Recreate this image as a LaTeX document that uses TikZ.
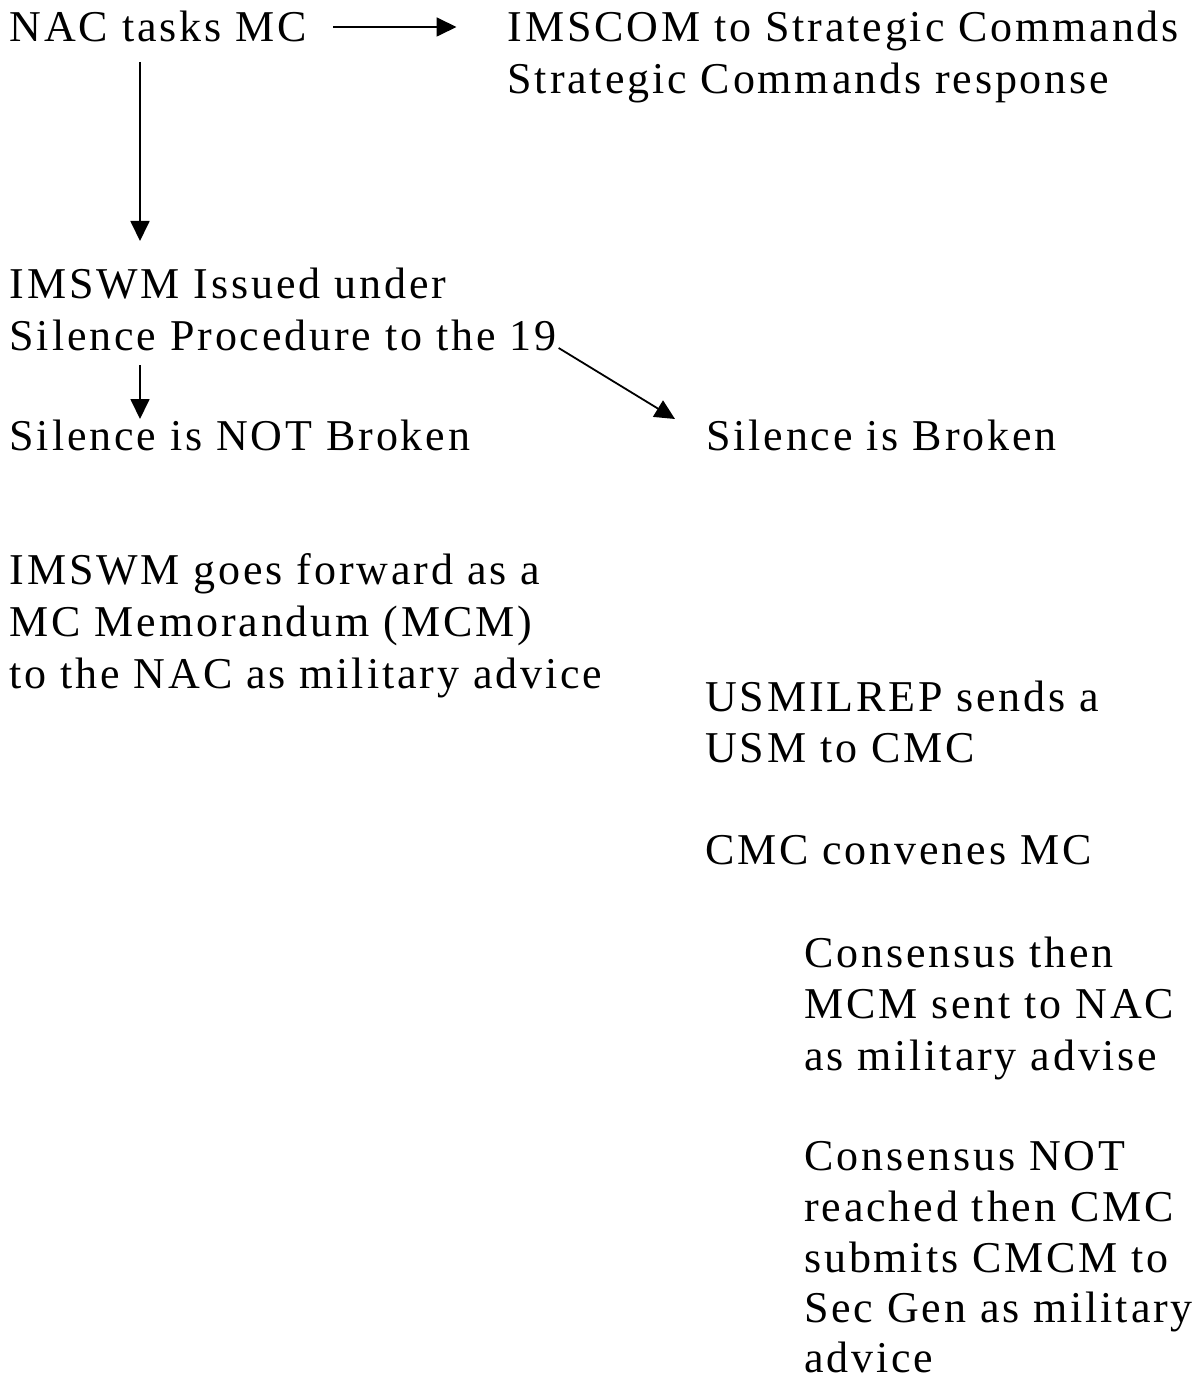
\documentclass[tikz,border=0pt]{standalone}
\usepackage{fontspec}
\setmainfont{Liberation Serif}[LetterSpace=6.5]
\usetikzlibrary{arrows.meta,calc}
\begin{document}
\begin{tikzpicture}[x=1pt,y=-1pt,
  txt/.style={inner sep=0pt, anchor=base west, text height=31pt, text depth=10pt,
              font=\fontsize{44}{52}\selectfont},
  flow/.style={line width=1.8pt, -{Triangle[length=20pt,width=19pt]}}]
\fill[white] (0,0) rectangle (1200,1380);
\useasboundingbox (0,0) rectangle (1200,1380);

% tasking
\node[txt] (nac)     at (9.5,42)   {NAC tasks MC};
\node[txt] (imscom1) at (507.5,42) {IMSCOM to Strategic Commands};
\node[txt] (imscom2) at (507.5,94) {Strategic Commands response};

% silence procedure
\node[txt] (imswm1) at (9.5,298) {IMSWM Issued under};
\node[txt] (imswm2) at (9.5,350) {Silence Procedure to the 19};

\node[txt] (notbroken) at (9.5,450) {Silence is NOT Broken};
\node[txt] (broken)    at (706,450) {Silence is Broken};

% silence not broken
\node[txt] (fwd1) at (9.5,584) {IMSWM goes forward as a};
\node[txt] (fwd2) at (9.5,636) {MC Memorandum (MCM)};
\node[txt] (fwd3) at (9.5,688) {to the NAC as military advice};

% silence broken
\node[txt] (usm1) at (705,711) {USMILREP sends a};
\node[txt] (usm2) at (705,762) {USM to CMC};
\node[txt] (convene) at (705,864) {CMC convenes MC};

\node[txt] (cons1) at (804,967)  {Consensus then};
\node[txt] (cons2) at (804,1018) {MCM sent to NAC};
\node[txt] (cons3) at (804,1070) {as military advise};

\node[txt] (nocons1) at (804,1170) {Consensus NOT};
\node[txt] (nocons2) at (804,1221) {reached then CMC};
\node[txt] (nocons3) at (804,1272) {submits CMCM to};
\node[txt] (nocons4) at (804,1322) {Sec Gen as military};
\node[txt, text depth=1pt] (nocons5) at (804,1372) {advice};

% connectors
\draw[flow] ($(nac.base east)+(26,-15)$) -- ($(nac.base east -| imscom1.west)+(-51,-15)$);
\draw[flow] ($(nac.base west)+(130.5,20)$) -- ($(imswm1.base west)+(130.5,-57)$);
\draw[flow] ($(imswm2.base west)+(130.5,15)$) -- ($(notbroken.base west)+(130.5,-31)$);
\draw[flow] ($(imswm2.base east)+(2,-2)$) -- ($(broken.base west)+(-31,-31)$);
\end{tikzpicture}
\end{document}
